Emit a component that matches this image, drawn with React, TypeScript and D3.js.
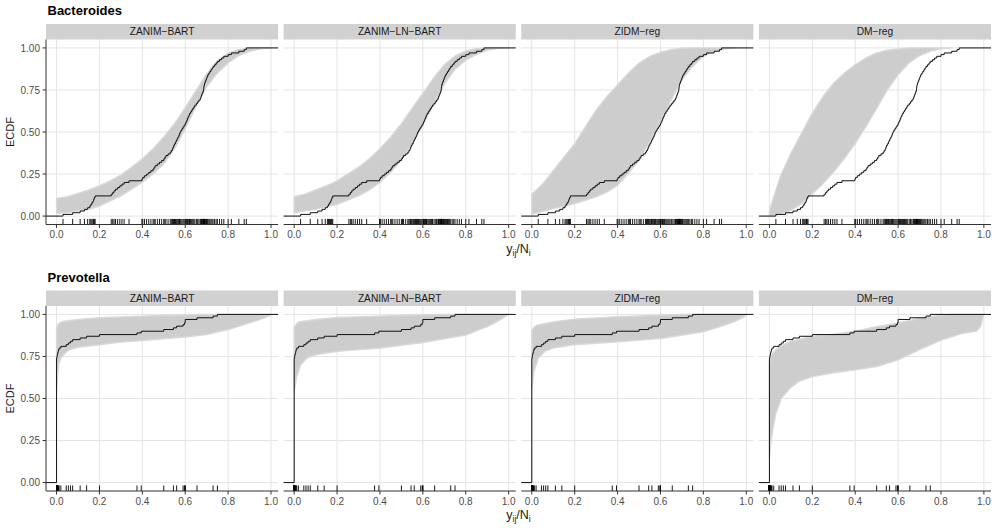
import * as d3 from "d3";

const taxa = ["Bacteroides", "Prevotella"];
const models = ["ZANIM−BART", "ZANIM−LN−BART", "ZIDM−reg", "DM−reg"];
const xTicks = [0, 0.2, 0.4, 0.6, 0.8, 1.0];
const yTicks = [0, 0.25, 0.5, 0.75, 1];

// observed proportions y_ij / N_i (rug + black ECDF)
const bacteroidesObs = [
  0.03, 0.075, 0.11, 0.13, 0.145, 0.155, 0.16, 0.165, 0.17, 0.173, 0.176, 0.18,
  0.255, 0.262, 0.268, 0.275, 0.285, 0.295, 0.305, 0.315, 0.338,
  0.398, 0.402, 0.41, 0.42, 0.43, 0.44, 0.45, 0.455, 0.46, 0.47, 0.48, 0.49, 0.5,
  0.505, 0.51, 0.52, 0.53, 0.535, 0.54, 0.543, 0.546, 0.55,
  0.555, 0.558, 0.562, 0.566, 0.57, 0.573, 0.576,
  0.58, 0.585, 0.59, 0.595, 0.6,
  0.603, 0.607, 0.61, 0.613, 0.617, 0.62,
  0.625, 0.63, 0.635, 0.64, 0.645,
  0.652, 0.658, 0.664, 0.67,
  0.673, 0.676, 0.679, 0.682, 0.685,
  0.686, 0.687, 0.688, 0.69,
  0.693, 0.696, 0.699, 0.702, 0.705,
  0.71, 0.715, 0.72, 0.725, 0.73,
  0.737, 0.744, 0.75,
  0.76, 0.77, 0.78,
  0.8, 0.815, 0.85, 0.875, 0.885,
];

const prevotellaZeros = 74;
const prevotellaNonZero = [
  0.002, 0.003, 0.005, 0.007, 0.009, 0.012, 0.02,
  0.045, 0.055, 0.065, 0.075, 0.11, 0.14, 0.2,
  0.375, 0.395, 0.5, 0.545, 0.56, 0.59, 0.597, 0.6, 0.6, 0.655, 0.73, 0.75,
];
const prevotellaObs = [...new Array(prevotellaZeros).fill(0), ...prevotellaNonZero];

// envelopes of the grey posterior-predictive ECDFs, [x, ECDF]
const bactZanimBartUpper = [[0, 0.105], [0.05, 0.115], [0.1, 0.135], [0.15, 0.155], [0.2, 0.18], [0.25, 0.21], [0.3, 0.245], [0.35, 0.29], [0.4, 0.34], [0.45, 0.4], [0.5, 0.47], [0.55, 0.55], [0.6, 0.645], [0.65, 0.745], [0.7, 0.845], [0.75, 0.925], [0.8, 0.97], [0.85, 0.99], [0.9, 1]];
const bactZanimBartLower = [[0, 0.015], [0.05, 0.02], [0.1, 0.03], [0.15, 0.04], [0.2, 0.06], [0.25, 0.09], [0.3, 0.12], [0.35, 0.16], [0.4, 0.2], [0.45, 0.25], [0.5, 0.31], [0.55, 0.4], [0.6, 0.52], [0.65, 0.65], [0.7, 0.77], [0.75, 0.85], [0.8, 0.91], [0.85, 0.955], [0.9, 0.98], [0.95, 0.995], [1.0, 1]];
const bactZanimLnUpper = [[0, 0.115], [0.05, 0.13], [0.1, 0.155], [0.15, 0.18], [0.2, 0.21], [0.25, 0.25], [0.3, 0.29], [0.35, 0.34], [0.4, 0.4], [0.45, 0.47], [0.5, 0.55], [0.55, 0.64], [0.6, 0.73], [0.65, 0.82], [0.7, 0.9], [0.75, 0.952], [0.8, 0.982], [0.85, 0.996], [0.9, 1]];
const bactZanimLnLower = [[0, 0.02], [0.05, 0.03], [0.1, 0.04], [0.15, 0.055], [0.2, 0.07], [0.25, 0.095], [0.3, 0.12], [0.35, 0.155], [0.4, 0.2], [0.45, 0.26], [0.5, 0.335], [0.55, 0.43], [0.6, 0.545], [0.65, 0.665], [0.7, 0.785], [0.75, 0.873], [0.8, 0.927], [0.85, 0.962], [0.9, 0.986], [0.95, 0.998], [1.0, 1]];
const bactZidmUpper = [[0, 0.13], [0.05, 0.19], [0.1, 0.27], [0.15, 0.35], [0.2, 0.43], [0.25, 0.53], [0.3, 0.63], [0.35, 0.71], [0.4, 0.78], [0.45, 0.85], [0.5, 0.91], [0.55, 0.95], [0.6, 0.974], [0.65, 0.99], [0.7, 0.998], [0.75, 1]];
const bactZidmLower = [[0, 0.01], [0.1, 0.044], [0.2, 0.074], [0.3, 0.114], [0.35, 0.143], [0.4, 0.183], [0.45, 0.253], [0.5, 0.333], [0.55, 0.442], [0.6, 0.562], [0.65, 0.691], [0.7, 0.811], [0.75, 0.89], [0.8, 0.95], [0.85, 0.98], [0.9, 0.994], [0.95, 1]];
const bactDmUpper = [[0, 0.03], [0.02, 0.114], [0.05, 0.233], [0.1, 0.373], [0.15, 0.492], [0.2, 0.612], [0.25, 0.711], [0.3, 0.791], [0.35, 0.851], [0.4, 0.9], [0.45, 0.94], [0.5, 0.97], [0.55, 0.986], [0.6, 0.994], [0.65, 1]];
const bactDmLower = [[0, 0], [0.05, 0.014], [0.1, 0.034], [0.15, 0.074], [0.2, 0.133], [0.25, 0.193], [0.3, 0.263], [0.35, 0.343], [0.4, 0.432], [0.45, 0.532], [0.5, 0.641], [0.55, 0.751], [0.6, 0.841], [0.65, 0.91], [0.7, 0.954], [0.75, 0.98], [0.8, 0.994], [0.85, 1]];

const prevZanimBartUpper = [[0, 0.92], [0.01, 0.945], [0.03, 0.958], [0.1, 0.97], [0.2, 0.98], [0.4, 0.99], [0.6, 0.998], [0.7, 1]];
const prevZanimBartLower = [[0, 0.55], [0.005, 0.65], [0.01, 0.7], [0.02, 0.74], [0.04, 0.77], [0.06, 0.79], [0.1, 0.805], [0.2, 0.82], [0.3, 0.835], [0.4, 0.845], [0.5, 0.855], [0.6, 0.866], [0.7, 0.88], [0.8, 0.91], [0.9, 0.95], [0.95, 0.97], [0.99, 0.99], [1.0, 1]];
const prevZanimLnUpper = [[0, 0.925], [0.02, 0.955], [0.1, 0.97], [0.2, 0.982], [0.4, 0.99], [0.6, 0.998], [0.7, 1]];
const prevZanimLnLower = [[0, 0.54], [0.01, 0.62], [0.03, 0.7], [0.06, 0.74], [0.1, 0.76], [0.2, 0.78], [0.4, 0.8], [0.6, 0.833], [0.8, 0.877], [0.9, 0.927], [0.95, 0.96], [1.0, 1]];
const prevZidmUpper = [[0, 0.905], [0.02, 0.935], [0.1, 0.955], [0.2, 0.972], [0.4, 0.986], [0.6, 0.996], [0.7, 1]];
const prevZidmLower = [[0, 0.56], [0.01, 0.66], [0.03, 0.74], [0.06, 0.78], [0.1, 0.8], [0.2, 0.82], [0.4, 0.837], [0.6, 0.857], [0.8, 0.897], [0.9, 0.936], [0.95, 0.96], [0.99, 0.985], [1.0, 1]];
const prevDmUpper = [[0, 0.7], [0.01, 0.76], [0.03, 0.79], [0.05, 0.81], [0.1, 0.84], [0.2, 0.87], [0.3, 0.883], [0.4, 0.9], [0.5, 0.927], [0.6, 0.95], [0.7, 0.976], [0.8, 0.996], [0.85, 1], [0.997, 1]];
const prevDmLower = [[0, 0.15], [0.005, 0.22], [0.015, 0.31], [0.03, 0.41], [0.055, 0.5], [0.095, 0.56], [0.135, 0.6], [0.2, 0.63], [0.3, 0.653], [0.4, 0.67], [0.5, 0.69], [0.6, 0.73], [0.7, 0.79], [0.8, 0.847], [0.9, 0.887], [0.965, 0.9], [0.985, 0.93], [0.997, 0.99]];

const observed = [bacteroidesObs, prevotellaObs];
const bands = [
  [[bactZanimBartUpper, bactZanimBartLower], [bactZanimLnUpper, bactZanimLnLower], [bactZidmUpper, bactZidmLower], [bactDmUpper, bactDmLower]],
  [[prevZanimBartUpper, prevZanimBartLower], [prevZanimLnUpper, prevZanimLnLower], [prevZidmUpper, prevZidmLower], [prevDmUpper, prevDmLower]],
];

const width = 996;
const height = 532;
const plotLeft = 46;
const plotRight = 991;
const gap = 5.5;
const panelW = (plotRight - plotLeft - 3 * gap) / 4;
const rowTops = [24, 290.5];
const stripH = 15.5;
const panelH = 185;
const font = "'Liberation Sans', Arial, Helvetica, sans-serif";

const xDomain = [-0.0492, 1.0332];
const yDomain = [-0.05, 1.05];

function ecdfPoints(obs: number[]) {
  const sorted = [...obs].sort(d3.ascending);
  const uniq = Array.from(new Set(sorted));
  const n = sorted.length;
  return [
    [xDomain[0], 0],
    ...uniq.map((v) => [v, d3.bisectRight(sorted, v) / n]),
    [xDomain[1], 1],
  ];
}

function Panel({ row, col }: { row: number; col: number }) {
  const left = plotLeft + col * (panelW + gap);
  const top = rowTops[row] + stripH;
  const bottom = top + panelH;
  const x = d3.scaleLinear().domain(xDomain).range([left, left + panelW]);
  const y = d3.scaleLinear().domain(yDomain).range([bottom, top]);
  const [upper, lower] = bands[row][col];
  const poly = [...upper, ...[...lower].reverse()];
  const bandPath = d3
    .line<number[]>()
    .x((d) => x(d[0]))
    .y((d) => y(d[1]))
    .curve(d3.curveLinearClosed)(poly);
  const stepPath = d3
    .line<number[]>()
    .x((d) => x(d[0]))
    .y((d) => y(d[1]))
    .curve(d3.curveStepAfter)(ecdfPoints(observed[row]));
  const rugLen = 0.03 * panelH;

  return (
    <g>
      {xTicks.map((t) => (
        <line key={"gx" + t} x1={x(t)} x2={x(t)} y1={top} y2={bottom} stroke="#e4e4e4" strokeWidth={1} />
      ))}
      {yTicks.map((t) => (
        <line key={"gy" + t} x1={left} x2={left + panelW} y1={y(t)} y2={y(t)} stroke="#e4e4e4" strokeWidth={1} />
      ))}
      <path d={bandPath ?? ""} fill="#cdcdcd" stroke="#d9d9d9" strokeWidth={1.4} strokeLinejoin="round" />
      <path d={stepPath ?? ""} fill="none" stroke="#111" strokeWidth={1} />
      {observed[row].map((v, i) => (
        <line key={"r" + i} x1={x(v)} x2={x(v)} y1={bottom} y2={bottom - rugLen} stroke="#000" strokeWidth={0.9} />
      ))}
      <rect x={left} y={rowTops[row]} width={panelW} height={stripH} fill="#d1d1d1" />
      <text x={left + panelW / 2} y={rowTops[row] + stripH / 2 + 3.6} textAnchor="middle" fontSize={10.2} fill="#1a1a1a">
        {models[col]}
      </text>
      <line x1={left} x2={left + panelW} y1={bottom} y2={bottom} stroke="#333" strokeWidth={1} />
      {xTicks.map((t) => (
        <g key={"tx" + t}>
          <line x1={x(t)} x2={x(t)} y1={bottom} y2={bottom + 3.5} stroke="#333" strokeWidth={1} />
          <text x={x(t)} y={bottom + 13.6} textAnchor="middle" fontSize={10} fill="#4d4d4d">
            {d3.format(".1f")(t)}
          </text>
        </g>
      ))}
      {col === 0 && (
        <g>
          <line x1={left} x2={left} y1={top} y2={bottom} stroke="#333" strokeWidth={1} />
          {yTicks.map((t) => (
            <g key={"ty" + t}>
              <line x1={left - 3.5} x2={left} y1={y(t)} y2={y(t)} stroke="#333" strokeWidth={1} />
              <text x={left - 6} y={y(t) + 3.6} textAnchor="end" fontSize={10} fill="#4d4d4d">
                {d3.format(".2f")(t)}
              </text>
            </g>
          ))}
        </g>
      )}
    </g>
  );
}

export default function App() {
  return (
    <svg
      width={width}
      height={height}
      viewBox={`0 0 ${width} ${height}`}
      style={{ position: "absolute", left: 0, top: 0, background: "#fff", fontFamily: font }}
    >
      <rect width={width} height={height} fill="#fff" />
      {taxa.map((taxon, row) => {
        const top = rowTops[row] + stripH;
        const bottom = top + panelH;
        return (
          <g key={taxon}>
            <text x={47.5} y={rowTops[row] - 9} fontSize={13} fontWeight="bold" fill="#000">
              {taxon}
            </text>
            {models.map((m, col) => (
              <Panel key={m} row={row} col={col} />
            ))}
            <text transform={`translate(14,${(top + bottom) / 2}) rotate(-90)`} textAnchor="middle" fontSize={11} fill="#1a1a1a">
              ECDF
            </text>
            <text x={(plotLeft + plotRight) / 2} y={bottom + 28} textAnchor="middle" fontSize={12.5} fill="#1a1a1a">
              y
              <tspan fontSize={8.5} dy={3}>ij</tspan>
              <tspan dy={-3}>/N</tspan>
              <tspan fontSize={8.5} dy={3}>i</tspan>
            </text>
          </g>
        );
      })}
    </svg>
  );
}
